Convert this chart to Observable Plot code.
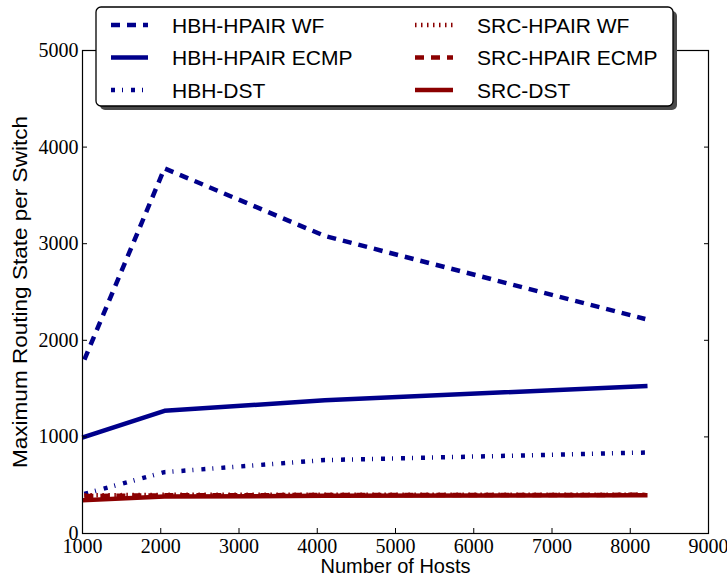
<!DOCTYPE html>
<html><head><meta charset="utf-8">
<script src="https://cdn.jsdelivr.net/npm/d3@7"></script>
<script src="https://cdn.jsdelivr.net/npm/@observablehq/plot@0.6"></script>
<style>
body{margin:0;background:#fff;}
#wrap{position:relative;width:727px;height:577px;overflow:hidden;background:#fff;}
#wrap svg.legend{position:absolute;left:0;top:0;}
</style></head><body><div id="wrap"></div>
<script>
// ---- data ----
const hosts = [1024, 2048, 4096, 8192];
const hbhHpairWF = [1800, 3780, 3080, 2220];
const hbhHpairECMP = [1000, 1270, 1380, 1525];
const hbhDST = [410, 635, 760, 838];
const srcHpairWF = [395, 400, 402, 402];
const srcHpairECMP = [388, 395, 398, 400];
const srcDST = [345, 382, 390, 395];
const seriesNames = ["HBH-HPAIR WF", "HBH-HPAIR ECMP", "HBH-DST", "SRC-HPAIR WF", "SRC-HPAIR ECMP", "SRC-DST"];
const xTicks = [1000, 2000, 3000, 4000, 5000, 6000, 7000, 8000, 9000];
const yTicks = [0, 1000, 2000, 3000, 4000, 5000];
const xLabel = "Number of Hosts";
const yLabel = "Maximum Routing State per Switch";

// ---- styles ----
const BLUE = "#00008b", RED = "#8b0000";
const series = [
  {name: seriesNames[0], values: hbhHpairWF,   color: BLUE, dash: "9,7",      cap: "butt"},
  {name: seriesNames[1], values: hbhHpairECMP, color: BLUE, dash: null,       cap: "square"},
  {name: seriesNames[2], values: hbhDST,       color: BLUE, dash: "4,7,1,8",  cap: "butt"},
  {name: seriesNames[3], values: srcHpairWF,   color: RED,  dash: "1.5,4.5",  cap: "butt"},
  {name: seriesNames[4], values: srcHpairECMP, color: RED,  dash: "9,7",      cap: "butt"},
  {name: seriesNames[5], values: srcDST,       color: RED,  dash: null,       cap: "square"}
];

const lineMarks = series.map(s => Plot.line(
  hosts.map((h, i) => ({hosts: h, value: s.values[i]})),
  {x: "hosts", y: "value", stroke: s.color, strokeWidth: 4.5,
   strokeDasharray: s.dash, strokeLinecap: s.cap, strokeLinejoin: "round"}
));

const tickFont = "'Liberation Serif', 'DejaVu Serif', serif";
const labelFont = "'Liberation Sans', Arial, sans-serif";

const chart = Plot.plot({
  width: 727, height: 577,
  marginLeft: 82, marginRight: 19, marginTop: 50, marginBottom: 44,
  style: {background: "#fff", color: "#000", fontFamily: labelFont},
  x: {domain: [1000, 9000]},
  y: {domain: [0, 5000]},
  marks: [
    ...lineMarks,
    Plot.frame({stroke: "#000", strokeWidth: 1.2}),
    Plot.axisX(xTicks, {anchor: "bottom", tickSize: -5, tickPadding: 10, tickFormat: d => String(d),
      fontFamily: tickFont, fontSize: 20, label: null}),
    Plot.axisX(xTicks, {anchor: "top", tickSize: -5, tickFormat: null, text: null, label: null}),
    Plot.axisY(yTicks, {anchor: "left", tickSize: -5, tickPadding: 9, tickFormat: d => String(d),
      fontFamily: tickFont, fontSize: 20, label: null}),
    Plot.axisY(yTicks, {anchor: "right", tickSize: -5, tickFormat: null, text: null, label: null}),
    Plot.text([xLabel], {frameAnchor: "bottom", dy: 33, text: d => d, fontSize: 20,
      fontFamily: labelFont, lineAnchor: "middle", textAnchor: "middle", fill: "#000"}),
    Plot.text([yLabel], {frameAnchor: "left", dx: -62, rotate: -90, text: d => d, fontSize: 20,
      fontFamily: labelFont, lineAnchor: "middle", textAnchor: "middle", fill: "#000"})
  ]
});

const wrap = document.getElementById("wrap");
wrap.appendChild(chart);

// stretch y label to reference length
d3.select(chart).selectAll("text").filter(function(){ return this.textContent === yLabel; })
  .attr("textLength", 352).attr("lengthAdjust", "spacingAndGlyphs");

// ---- legend (overlaid, as in the reference) ----
const L = {left: 96, top: 7, w: 577, h: 99};
const leg = d3.select(wrap).append("svg").attr("class", "legend")
  .attr("width", 727).attr("height", 130);
leg.append("rect").attr("x", L.left + 4).attr("y", L.top + 4).attr("width", L.w).attr("height", L.h)
  .attr("rx", 5).attr("fill", "#4a4a4a");
leg.append("rect").attr("x", L.left).attr("y", L.top).attr("width", L.w).attr("height", L.h)
  .attr("rx", 5).attr("fill", "#fff").attr("stroke", "#000").attr("stroke-width", 1.3);
const rowsY = [25, 57.5, 90];
const cols = [{sx0: 111, sx1: 148, tx: 172}, {sx0: 415, sx1: 453, tx: 477}];
series.forEach((s, i) => {
  const c = cols[Math.floor(i / 3)], y = rowsY[i % 3];
  leg.append("line").attr("x1", c.sx0).attr("x2", c.sx1).attr("y1", y).attr("y2", y)
    .attr("stroke", s.color).attr("stroke-width", 4.5)
    .attr("stroke-dasharray", s.dash).attr("stroke-linecap", "butt");
  leg.append("text").attr("x", c.tx).attr("y", y).attr("dy", "0.36em")
    .attr("font-family", labelFont).attr("font-size", 21).attr("fill", "#000").text(s.name);
});
</script></body></html>
